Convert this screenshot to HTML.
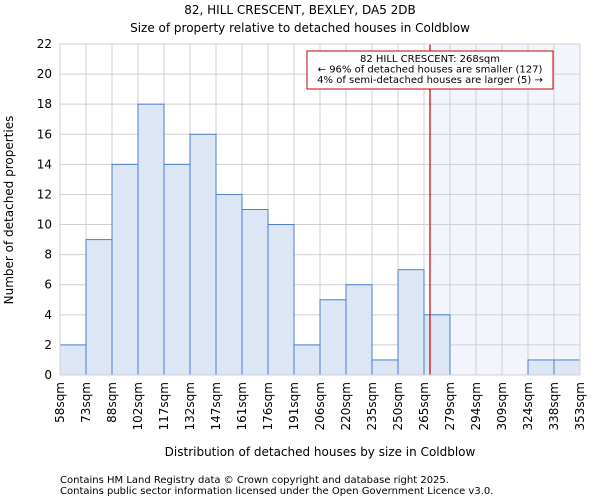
<!DOCTYPE html>
<html><head><meta charset="utf-8"><style>
body{margin:0;background:#fff;font-family:"DejaVu Sans","Liberation Sans",sans-serif;}
svg text{font-family:"DejaVu Sans","Liberation Sans",sans-serif;fill:#000;}
</style></head><body>
<svg id="chart" width="600" height="500" xmlns="http://www.w3.org/2000/svg">
<text x="300" y="14" font-size="12" text-anchor="middle">82, HILL CRESCENT, BEXLEY, DA5 2DB</text>
<text x="300" y="32" font-size="12" text-anchor="middle">Size of property relative to detached houses in Coldblow</text>
<g id="plot"></g>
<text x="320" y="456" font-size="12" text-anchor="middle">Distribution of detached houses by size in Coldblow</text>
<text transform="translate(13,210) rotate(-90)" font-size="12" text-anchor="middle">Number of detached properties</text>
<text x="60" y="483" font-size="10" fill="#333">Contains HM Land Registry data © Crown copyright and database right 2025.</text>
<text x="60" y="494" font-size="10" fill="#333">Contains public sector information licensed under the Open Government Licence v3.0.</text>
</svg>
<script>
const binLabels=["58sqm","73sqm","88sqm","102sqm","117sqm","132sqm","147sqm","161sqm","176sqm","191sqm","206sqm","220sqm","235sqm","250sqm","265sqm","279sqm","294sqm","309sqm","324sqm","338sqm","353sqm"];
const counts=[2,9,14,18,14,16,12,11,10,2,5,6,1,7,4,0,0,0,1,1];
const yTicks=[0,2,4,6,8,10,12,14,16,18,20,22];
const propertyBinPos=14.23;
const NS="http://www.w3.org/2000/svg";
const L=60,R=580,T=44,B=375,yMax=22;
const bw=(R-L)/counts.length;
const xs=i=>L+i*bw;
const ys=v=>B-(v/yMax)*(B-T);
const g=document.getElementById('plot');
function mk(t,a){const e=document.createElementNS(NS,t);for(const k in a)e.setAttribute(k,a[k]);g.appendChild(e);return e;}
const px=xs(propertyBinPos);
let e=mk('rect',{x:px,y:T,width:R-px,height:B-T,fill:'#f2f5fc'});


yTicks.forEach(v=>{
 let l=mk('line',{x1:L,x2:R,y1:ys(v),y2:ys(v),stroke:'#d0d0d0','stroke-width':1});
 
 
 let t=mk('text',{x:L-8,y:ys(v)+4,'font-size':12,'text-anchor':'end'});t.textContent=v;
 
 
});
binLabels.forEach((s,i)=>{
 let l=mk('line',{x1:xs(i),x2:xs(i),y1:T,y2:B,stroke:'#d0d0d0','stroke-width':1});
 
 
 let t=mk('text',{'font-size':12,'text-anchor':'end',transform:`translate(${xs(i)+4},${B+7}) rotate(-90)`});t.textContent=s;
 
 
});
counts.forEach((c,i)=>{
 if(c<=0)return;
 let r=mk('rect',{x:xs(i),y:ys(c),width:bw,height:B-ys(c),fill:'#dce6f4',stroke:'#4a7fd0','stroke-width':1});
 
 
});
let pl=mk('line',{x1:px,x2:px,y1:T,y2:B,stroke:'#cc0000','stroke-width':1.2});


let bx=mk('rect',{x:307,y:51,width:246,height:38,fill:'#fff',stroke:'#cc0000','stroke-width':1});


["82 HILL CRESCENT: 268sqm","← 96% of detached houses are smaller (127)","4% of semi-detached houses are larger (5) →"].forEach((s,i)=>{
 let t=mk('text',{x:430,y:62+i*10.5,'font-size':10,'text-anchor':'middle'});t.textContent=s;
 
 
});
let fr=mk('rect',{x:L,y:T,width:R-L,height:B-T,fill:'none',stroke:'#d0d0d0'});


</script>
</body></html>
